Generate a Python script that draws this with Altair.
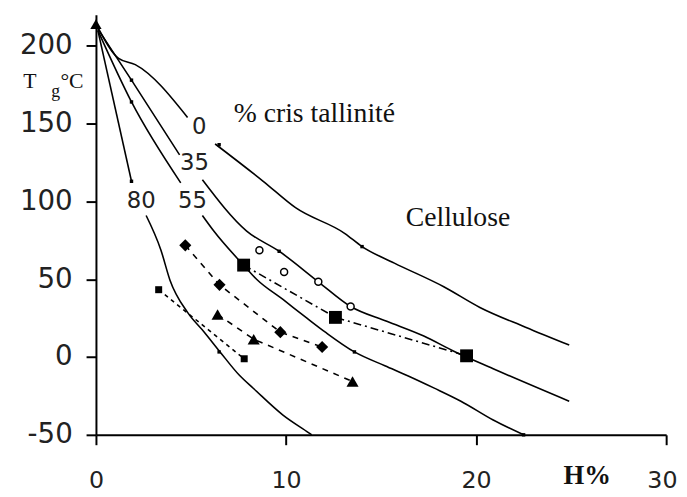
import altair as alt
import pandas as pd

# ---- solid curves (% crystallinity), split where the curve label sits ----
c0a_H = [0.1, 1.19, 2.07, 4.82]
c0a_T = [212, 192, 188, 154]
c0b_H = [6.27, 8.8, 10.5, 13.1, 14.0, 15.7, 18.3, 20.2, 22.6, 24.9]
c0b_T = [137, 113, 96, 79.4, 71, 60.4, 45.2, 31.9, 19.2, 7.7]

c35a_H = [0.1, 1.87, 4.4]
c35a_T = [211, 178, 130]
c35b_H = [5.6, 7.93, 9.64, 11.7, 13.4, 15.3, 17.25, 18.8, 20.9, 24.9]
c35b_T = [114, 81, 68, 48.4, 32.5, 23, 13.5, 3.9, -7.5, -28.4]

c55a_H = [0.1, 1.87, 4.46]
c55a_T = [210, 164, 112]
c55b_H = [5.6, 6.2, 7.77, 8.45, 9.84, 11.1, 12.07, 13.6, 15.2, 16.4, 17.8, 19.2, 20.9, 22.5]
c55b_T = [91, 81, 59, 50, 37, 25, 16, 3.3, -5.6, -12, -20, -28.4, -40.5, -50]

c80a_H = [0.1, 1.87]
c80a_T = [210, 113]
c80b_H = [2.64, 3.42, 3.89, 4.82, 5.7, 6.53, 7.56, 8.29, 9.84, 11.2, 11.35]
c80b_T = [91, 68.7, 49.6, 28.7, 16, 3.3, -11.9, -20.2, -37.3, -48.7, -50]

# small dots on the curves
dot_H = [1.87, 6.48, 1.87, 13.6, 22.5, 1.87, 9.64, 6.48, 14.0]
dot_T = [113, 3.3, 164, 3.3, -50, 178, 68, 136.5, 71]

# ---- measured series ----
bigsq_H = [7.77, 12.6, 19.5]
bigsq_T = [59.1, 25.5, 0.8]
circ_H = [8.6, 9.9, 11.7, 13.4]
circ_T = [68.7, 54.7, 48.4, 32.5]
diam_H = [4.7, 6.5, 9.7, 11.9]
diam_T = [71.8, 46.4, 16.0, 6.5]
tri_H = [6.4, 8.3, 13.5]
tri_T = [27.4, 11.5, -15.7]
smsq_H = [3.3, 7.8]
smsq_T = [43.3, -1.1]
top_H = [0]
top_T = [214]

# ---- labels ----
curve_labels = ["0", "35", "55", "80"]
curve_label_H = [5.44, 5.18, 5.08, 2.38]
curve_label_T = [148, 124.5, 100.4, 100.4]

x_ticks = [0, 10, 20, 30]
y_ticks = [-50, 0, 50, 100, 150, 200]

rows = []
for name, Hs, Ts in [("0a", c0a_H, c0a_T), ("0b", c0b_H, c0b_T),
                     ("35a", c35a_H, c35a_T), ("35b", c35b_H, c35b_T),
                     ("55a", c55a_H, c55a_T), ("55b", c55b_H, c55b_T),
                     ("80a", c80a_H, c80a_T), ("80b", c80b_H, c80b_T)]:
    for h, t in zip(Hs, Ts):
        rows.append({"H": h, "T": t, "seg": name})
curves = pd.DataFrame(rows)

def df(Hs, Ts):
    return pd.DataFrame({"H": Hs, "T": Ts})

xs = alt.Scale(domain=[0, 30], nice=False, zero=False)
ys = alt.Scale(domain=[-50, 220], nice=False, zero=False)
X = alt.X("H:Q", scale=xs, axis=alt.Axis(
    values=x_ticks, title=None, grid=False, tickSize=10, tickWidth=2,
    domainWidth=2, domainColor="black", tickColor="black",
    labelFont="DejaVu Sans", labelFontSize=24, labelColor="#222",
    labelPadding=24, labelFlush=False, labelOverlap=False,
    labelAlign={"condition": {"test": "datum.value == 30", "value": "right"}, "value": "center"},
    labelOffset={"condition": {"test": "datum.value == 30", "value": 11}, "value": 0}))
Y = alt.Y("T:Q", scale=ys, axis=alt.Axis(
    values=y_ticks, title=None, grid=False, tickSize=10, tickWidth=2,
    domainWidth=2, domainColor="black", tickColor="black",
    labelFont="DejaVu Sans", labelFontSize=28, labelColor="#222",
    labelPadding=14, labelFlush=False, labelOverlap=False,
    labelExpr="'' + datum.value"))
Xn = alt.X("H:Q", scale=xs)
Yn = alt.Y("T:Q", scale=ys)

curve_layer = alt.Chart(curves).mark_line(
    color="black", strokeWidth=1.6, interpolate="monotone"
).encode(x=X, y=Y, detail="seg:N")

dots = alt.Chart(df(dot_H, dot_T)).mark_point(
    shape="square", filled=True, size=12, color="black", opacity=1
).encode(x=Xn, y=Yn)

def dashed(Hs, Ts, dash):
    return alt.Chart(df(Hs, Ts)).mark_line(
        color="black", strokeWidth=1.6, strokeDash=dash
    ).encode(x=Xn, y=Yn)

def points(Hs, Ts, shape, size, filled=True):
    if filled:
        m = alt.Chart(df(Hs, Ts)).mark_point(
            shape=shape, filled=True, size=size, color="black", opacity=1)
    else:
        m = alt.Chart(df(Hs, Ts)).mark_point(
            shape=shape, size=size, fill="white", stroke="black",
            strokeWidth=1.5, opacity=1, fillOpacity=1, filled=True)
    return m.encode(x=Xn, y=Yn)

layers = [
    curve_layer,
    dots,
    dashed(bigsq_H, bigsq_T, [8, 4, 2, 4]),
    dashed(diam_H, diam_T, [6, 6]),
    dashed(tri_H, tri_T, [6, 6]),
    dashed(smsq_H, smsq_T, [4, 4]),
    points(bigsq_H, bigsq_T, "square", 170),
    points(circ_H, circ_T, "circle", 50, filled=False),
    points(diam_H, diam_T, "diamond", 150),
    points(tri_H, tri_T, "triangle-up", 150),
    points(smsq_H, smsq_T, "square", 50),
    points(top_H, top_T, "triangle-up", 130),
]

lab_df = pd.DataFrame({"H": curve_label_H, "T": curve_label_T, "txt": curve_labels})
layers.append(alt.Chart(lab_df).mark_text(
    font="DejaVu Sans", fontSize=23, color="#222", align="center", baseline="middle"
).encode(x=Xn, y=Yn, text="txt:N"))

def note(txt, h, t, font, size, align="left", weight="normal"):
    d = pd.DataFrame({"H": [h], "T": [t], "txt": [txt]})
    return alt.Chart(d).mark_text(
        font=font, fontSize=size, color="#111", align=align,
        baseline="middle", fontWeight=weight
    ).encode(x=Xn, y=Yn, text="txt:N")

layers += [
    note("% cris tallinité", 7.25, 156.2, "Liberation Serif", 28),
    note("Cellulose", 16.3, 89.6, "Liberation Serif", 28),
    note("H%", 25.85, -76.5, "Liberation Serif", 27, align="center", weight="bold"),
    note("T", -3.47, 177.2, "Liberation Serif", 22, align="center"),
    note("g", -2.12, 170.2, "Liberation Serif", 18, align="center"),
    note("°C", -1.87, 177.2, "Liberation Serif", 22),
]

chart = alt.layer(*layers).properties(
    width=577, height=425,
    autosize=alt.AutoSizeParams(type="none"),
    padding={"left": 89, "top": 4, "right": 13, "bottom": 60},
    background="white",
).configure_view(stroke=None)

chart.save("out.html", embed_options={"renderer": "svg", "actions": False})
